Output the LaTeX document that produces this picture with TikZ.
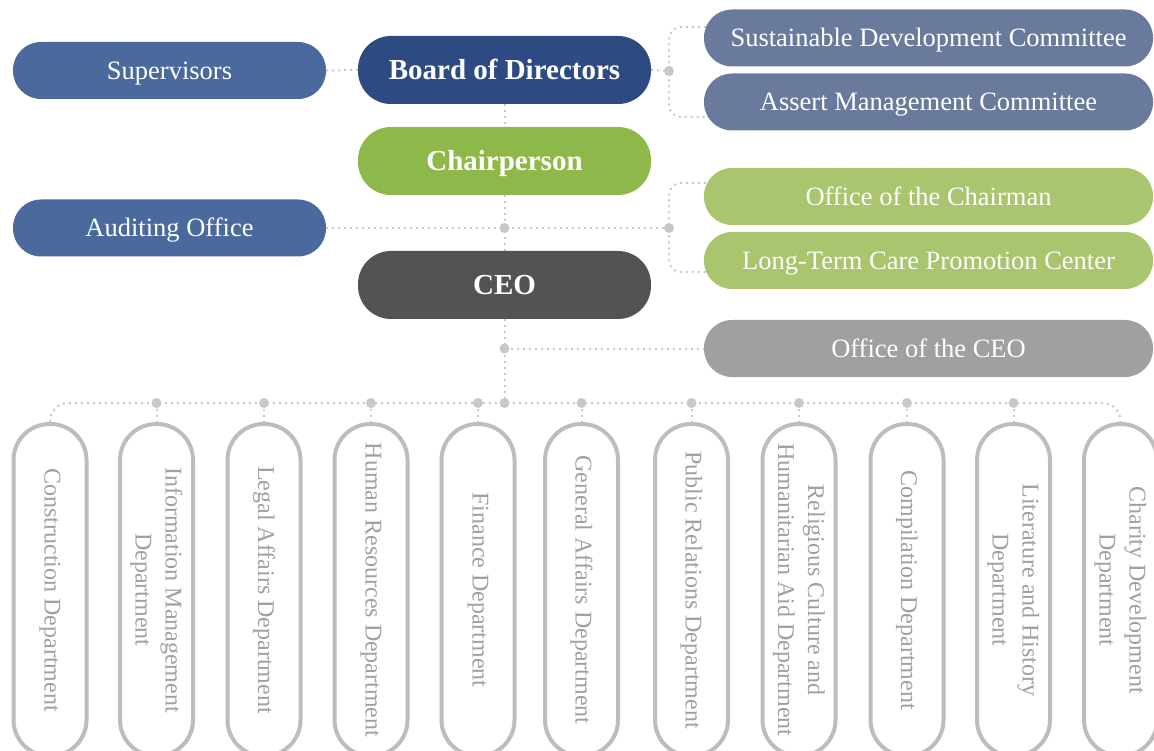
\documentclass[tikz,border=0pt]{standalone}
\usepackage{fontspec}
\setmainfont{Liberation Serif}
\usetikzlibrary{calc}

\definecolor{supblue}{HTML}{4A6A9E}
\definecolor{boardblue}{HTML}{2D4A83}
\definecolor{chairgreen}{HTML}{8FB84A}
\definecolor{ceogray}{HTML}{555351}
\definecolor{cmteblue}{HTML}{6A7A9C}
\definecolor{officegreen}{HTML}{A9C56D}
\definecolor{officegray}{HTML}{A0A0A0}
\definecolor{deptline}{HTML}{BDBDBD}
\definecolor{depttext}{HTML}{A0A0A0}
\definecolor{linkgray}{HTML}{C8C8C8}

\pgfdeclarelayer{links}
\pgfsetlayers{links,main}

\begin{document}
\begin{tikzpicture}[x=1pt,y=-1pt,
  conn/.style={draw=linkgray, line width=2pt, dash pattern=on 2pt off 4pt},
  pill/.style={rectangle, rounded corners=28pt, inner sep=0pt, text=white,
    text height=17.5pt, text depth=0pt, font=\fontsize{26.5}{30}\selectfont},
  keypill/.style={pill, rounded corners=33pt, minimum width=293pt, minimum height=68pt,
    text height=19pt, font=\bfseries\fontsize{29}{32}\selectfont},
  sidepill/.style={pill, fill=supblue, minimum width=313pt, minimum height=57pt},
  unitpill/.style={pill, minimum width=449pt, minimum height=57pt},
  dept/.style={rectangle, rotate=-90, draw=deptline, line width=4pt, fill=white,
    rounded corners=36pt, minimum width=332pt, minimum height=73pt, inner sep=0pt,
    text=depttext, align=center, font=\fontsize{24}{30}\selectfont}]

\useasboundingbox (0,0) rectangle (1154,751);

% governance and executive boxes
\node[sidepill] (sup) at (169.5,70.5) {Supervisors};
\node[sidepill] (aud) at (169.5,228) {Auditing Office};
\node[keypill, fill=boardblue] (board) at (504.5,70) {Board of Directors};
\node[keypill, fill=chairgreen] (chair) at (504.5,161) {Chairperson};
\node[keypill, fill=ceogray] (ceo) at (504.5,285) {CEO};

% committees and offices on the right
\node[unitpill, fill=cmteblue] (sdc) at (928.5,38) {Sustainable Development Committee};
\node[unitpill, fill=cmteblue] (amc) at (928.5,102) {Assert Management Committee};
\node[unitpill, fill=officegreen] (och) at (928.5,196.5) {Office of the Chairman};
\node[unitpill, fill=officegreen] (ltc) at (928.5,260.5) {Long-Term Care Promotion Center};
\node[unitpill, fill=officegray] (oceo) at (928.5,348.5) {Office of the CEO};

% departments
\node[dept] (d1) at (50,590) {Construction Department};
\node[dept] (d2) at (156.5,590) {Information Management\\Department};
\node[dept] (d3) at (264,590) {Legal Affairs Department};
\node[dept] (d4) at (371,590) {Human Resources Department};
\node[dept] (d5) at (478,590) {Finance Department};
\node[dept] (d6) at (581.5,590) {General Affairs Department};
\node[dept] (d7) at (691.5,590) {Public Relations Department};
\node[dept] (d8) at (799,590) {Religious Culture and\\Humanitarian Aid Department};
\node[dept] (d9) at (907,590) {Compilation Department};
\node[dept] (d10) at (1013.5,590) {Literature and History\\Department};
\node[dept] (d11) at (1120.5,590) {Charity Development\\Department};

% junction points
\coordinate (jb) at (669,71);
\coordinate (bt) at (669,27);
\coordinate (bb) at (669,117);
\coordinate (j2) at (504.5,228);
\coordinate (jc) at (669,228);
\coordinate (ct) at (669,183);
\coordinate (cb) at (669,272);
\coordinate (j3) at (504.5,348.5);
\coordinate (bus) at (504.5,403);

\begin{pgfonlayer}{links}
  % main spine
  \draw[conn] (board.south) -- (chair.north);
  \draw[conn] (chair.south) -- (ceo.north);
  \draw[conn] (ceo.south) -- (bus);
  % side links
  \draw[conn] (sup.east) -- (board.west);
  \draw[conn] (board.east) -- (jb);
  \draw[conn, rounded corners=12pt] ($(sdc.west |- bt)+(8,0)$) -- (bt) -- (bb) -- ($(amc.west |- bb)+(8,0)$);
  \draw[conn] (aud.east) -- (jc);
  \draw[conn, rounded corners=12pt] ($(och.west |- ct)+(8,0)$) -- (ct) -- (cb) -- ($(ltc.west |- cb)+(8,0)$);
  \draw[conn] (j3) -- (oceo.west);
  % department bus
  \draw[conn, rounded corners=18pt] (d1.west) -- (d1.west |- bus) -- (d11.west |- bus) -- (d11.west);
  \foreach \d in {d2,d3,d4,d5,d6,d7,d8,d9,d10} {
    \draw[conn] (\d.west |- bus) -- (\d.west);
  }
\end{pgfonlayer}

% junction dots
\foreach \p in {jb,j2,jc,j3,bus} {
  \fill[linkgray] (\p) circle (5pt);
}
\foreach \d in {d2,d3,d4,d5,d6,d7,d8,d9,d10} {
  \fill[linkgray] (\d.west |- bus) circle (5pt);
}

\end{tikzpicture}
\end{document}
